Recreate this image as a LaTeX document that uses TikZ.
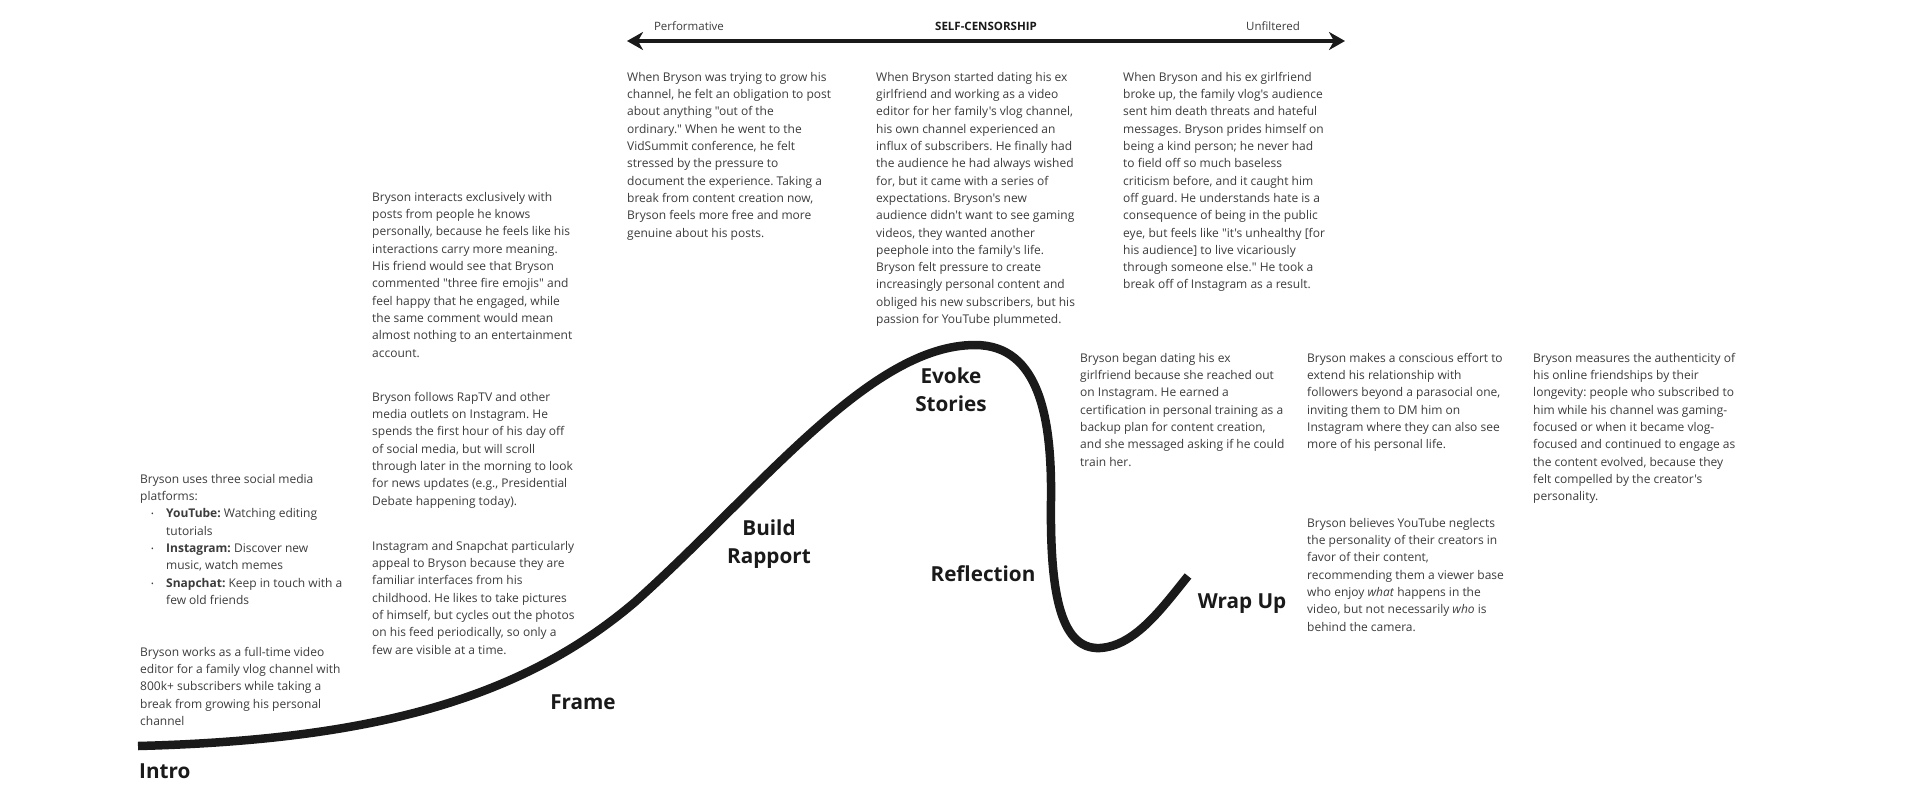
\documentclass[tikz,border=0pt]{standalone}
\usepackage{fontspec}
\setmainfont{Open Sans}
\newfontfamily\plainsans{Open Sans}
\usepackage{graphicx}
\usepackage{tikz}
\usetikzlibrary{arrows.meta}
\definecolor{notegray}{HTML}{3C3C3C}
\definecolor{inkblack}{HTML}{1A1A1A}
\newcommand{\listdot}{\hspace*{11pt}\makebox[15pt][l]{\raisebox{1pt}{\scalebox{0.6}{\textbullet}}}}
\newcommand{\listgap}{\hspace*{26pt}}
\frenchspacing

\begin{document}
\begin{tikzpicture}[x=1pt,y=-1pt,
  note/.style={anchor=north west,inner sep=0pt,align=left,text=notegray,font=\plainsans\fontsize{12}{17.3}\selectfont},
  stage/.style={inner sep=0pt,align=center,text=inkblack,font=\plainsans\fontsize{20.7}{28.3}\selectfont\bfseries},
  axislabel/.style={inner sep=0pt,text=notegray,font=\plainsans\fontsize{11.5}{14}\selectfont}]
\useasboundingbox[fill=white] (0,0) rectangle (1931,809);

\coordinate (perf) at (627,41);
\coordinate (unfil) at (1345,41);
\draw[line width=3.6pt,inkblack,{Stealth[length=16pt,width=18pt,inset=5pt]}-{Stealth[length=16pt,width=18pt,inset=5pt]}] (perf) -- (unfil);
\node[axislabel] (performative) at (689,26) {Performative};
\node[axislabel,font=\plainsans\fontsize{11.5}{14}\selectfont\bfseries,text=inkblack] (selfcens) at (986,26) {SELF-CENSORSHIP};
\node[axislabel] (unfiltered) at (1273,26) {Unfiltered};

\draw[line width=8.5pt,inkblack] (138,746) .. controls (370,740) and (520,700) .. (635,602)
  .. controls (760,490) and (870,345) .. (975,345)
  .. controls (1040,345) and (1052,420) .. (1051,500)
  .. controls (1050,585) and (1058,650) .. (1100,648)
  .. controls (1135,646) and (1162,608) .. (1188,576);

\node[stage,anchor=west] (intro) at (139,771) {Intro};
\node[stage] (frame) at (583,702) {Frame};
\node[stage] (rapport) at (769,544) {Build\\Rapport};
\node[stage] (evoke) at (951,390) {Evoke\\Stories};
\node[stage] (reflection) at (983,574) {Reflection};
\node[stage] (wrapup) at (1242,604) {Wrap Up};

\node[note] (growing) at (627,72) {When Bryson was trying to grow his\\
channel, he felt an obligation to post\\
about anything "out of the\\
ordinary." When he went to the\\
VidSummit conference, he felt\\
stressed by the pressure to\\
document the experience. Taking a\\
break from content creation now,\\
Bryson feels more free and more\\
genuine about his posts.};

\node[note] (dating) at (876,72) {When Bryson started dating his ex\\
girlfriend and working as a video\\
editor for her family's vlog channel,\\
his own channel experienced an\\
influx of subscribers. He finally had\\
the audience he had always wished\\
for, but it came with a series of\\
expectations. Bryson's new\\
audience didn't want to see gaming\\
videos, they wanted another\\
peephole into the family's life.\\
Bryson felt pressure to create\\
increasingly personal content and\\
obliged his new subscribers, but his\\
passion for YouTube plummeted.};

\node[note] (breakup) at (1123,72) {When Bryson and his ex girlfriend\\
broke up, the family vlog's audience\\
sent him death threats and hateful\\
messages. Bryson prides himself on\\
being a kind person; he never had\\
to field off so much baseless\\
criticism before, and it caught him\\
off guard. He understands hate is a\\
consequence of being in the public\\
eye, but feels like "it's unhealthy [for\\
his audience] to live vicariously\\
through someone else." He took a\\
break off of Instagram as a result.};

\node[note] (interacts) at (372,192) {Bryson interacts exclusively with\\
posts from people he knows\\
personally, because he feels like his\\
interactions carry more meaning.\\
His friend would see that Bryson\\
commented "three fire emojis" and\\
feel happy that he engaged, while\\
the same comment would mean\\
almost nothing to an entertainment\\
account.};

\node[note] (follows) at (372,392) {Bryson follows RapTV and other\\
media outlets on Instagram. He\\
spends the first hour of his day off\\
of social media, but will scroll\\
through later in the morning to look\\
for news updates (e.g., Presidential\\
Debate happening today).};

\node[note] (appeal) at (372,541) {Instagram and Snapchat particularly\\
appeal to Bryson because they are\\
familiar interfaces from his\\
childhood. He likes to take pictures\\
of himself, but cycles out the photos\\
on his feed periodically, so only a\\
few are visible at a time.};

\node[note] (platforms) at (140,474) {Bryson uses three social media\\
platforms:\\
\listdot\textbf{YouTube:} Watching editing\\
\listgap tutorials\\
\listdot\textbf{Instagram:} Discover new\\
\listgap music, watch memes\\
\listdot\textbf{Snapchat:} Keep in touch with a\\
\listgap few old friends};

\node[note] (works) at (140,647) {Bryson works as a full-time video\\
editor for a family vlog channel with\\
800k+ subscribers while taking a\\
break from growing his personal\\
channel};

\node[note] (began) at (1080,353) {Bryson began dating his ex\\
girlfriend because she reached out\\
on Instagram. He earned a\\
certification in personal training as a\\
backup plan for content creation,\\
and she messaged asking if he could\\
train her.};

\node[note] (effort) at (1307,353) {Bryson makes a conscious effort to\\
extend his relationship with\\
followers beyond a parasocial one,\\
inviting them to DM him on\\
Instagram where they can also see\\
more of his personal life.};

\node[note] (neglects) at (1307,518) {Bryson believes YouTube neglects\\
the personality of their creators in\\
favor of their content,\\
recommending them a viewer base\\
who enjoy \textit{what} happens in the\\
video, but not necessarily \textit{who} is\\
behind the camera.};

\node[note] (measures) at (1533,353) {Bryson measures the authenticity of\\
his online friendships by their\\
longevity: people who subscribed to\\
him while his channel was gaming-\\
focused or when it became vlog-\\
focused and continued to engage as\\
the content evolved, because they\\
felt compelled by the creator's\\
personality.};
\end{tikzpicture}
\end{document}
